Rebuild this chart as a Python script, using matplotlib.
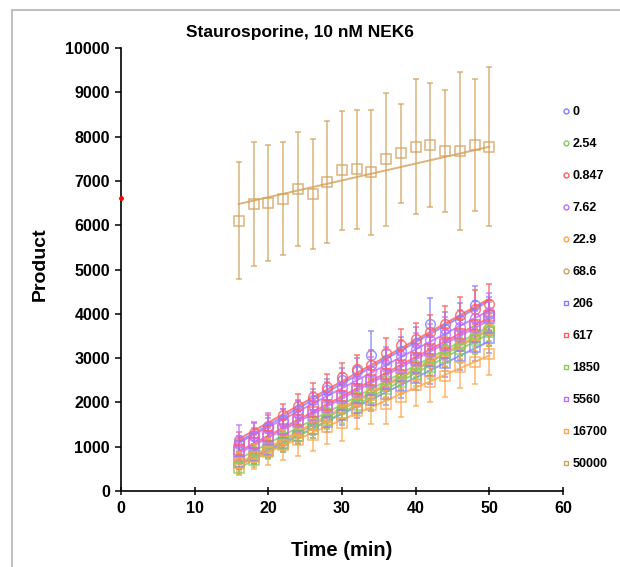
import matplotlib
matplotlib.use('Agg')
import matplotlib.pyplot as plt
from matplotlib.lines import Line2D
from matplotlib.patches import Rectangle
import numpy as np

plt.rcParams['font.family'] = ['Liberation Sans', 'DejaVu Sans']

# Time points (min)
time = [16, 18, 20, 22, 24, 26, 28, 30, 32, 34, 36, 38, 40, 42, 44, 46, 48, 50]

# Staurosporine concentrations (legend order)
labels = ['0', '2.54', '0.847', '7.62', '22.9', '68.6',
          '206', '617', '1850', '5560', '16700', '50000']

# Product values per concentration
p_0 = [1050, 1250, 1420, 1600, 1830, 2050, 2280, 2500, 2700, 3070, 2950, 3150, 3350, 3780, 3650, 3850, 4200, 4000]
p_2_54 = [750, 900, 1050, 1250, 1400, 1600, 1780, 1950, 2150, 2300, 2500, 2650, 2850, 3000, 3200, 3350, 3550, 3700]
p_0_847 = [1110, 1300, 1470, 1710, 1920, 2130, 2350, 2570, 2750, 2840, 3110, 3300, 3430, 3590, 3770, 3970, 4100, 4210]
p_7_62 = [1150, 1250, 1450, 1550, 1750, 1950, 2150, 2350, 2500, 2700, 2850, 3050, 3200, 3400, 3550, 3700, 3900, 4050]
p_22_9 = [650, 820, 1000, 1150, 1350, 1500, 1700, 1880, 2050, 2250, 2400, 2600, 2780, 2950, 3150, 3300, 3500, 3650]
p_68_6 = [600, 780, 950, 1120, 1300, 1480, 1650, 1850, 2000, 2200, 2380, 2550, 2750, 2900, 3100, 3280, 3450, 3620]
p_206 = [650, 780, 920, 1080, 1250, 1400, 1550, 1720, 1880, 2050, 2200, 2380, 2550, 2700, 2880, 3050, 3250, 3450]
p_617 = [930, 1080, 1250, 1400, 1600, 1780, 1950, 2150, 2300, 2500, 2650, 2850, 3000, 3200, 3350, 3550, 3750, 3950]
p_1850 = [520, 700, 900, 1050, 1250, 1400, 1600, 1750, 1950, 2100, 2300, 2450, 2650, 2800, 3000, 3200, 3400, 3600]
p_5560 = [880, 1050, 1200, 1380, 1550, 1720, 1900, 2100, 2250, 2450, 2600, 2780, 2950, 3150, 3300, 3500, 3700, 3900]
p_16700 = [630, 770, 890, 1040, 1150, 1260, 1450, 1530, 1810, 1940, 1960, 2130, 2390, 2470, 2600, 2810, 2920, 3090]
p_50000 = [6100, 6480, 6510, 6600, 6810, 6710, 6980, 7240, 7260, 7190, 7490, 7620, 7770, 7800, 7680, 7680, 7820, 7770]

# Standard deviations
e_0 = [200, 180, 220, 250, 230, 260, 240, 280, 300, 550, 300, 320, 350, 580, 380, 400, 420, 380]
e_2_54 = [150, 160, 170, 180, 190, 200, 210, 220, 230, 240, 250, 260, 270, 280, 290, 300, 310, 320]
e_0_847 = [220, 230, 240, 260, 280, 300, 300, 320, 330, 340, 350, 360, 370, 380, 400, 420, 440, 460]
e_7_62 = [350, 300, 320, 300, 280, 290, 300, 310, 320, 330, 340, 350, 360, 370, 380, 390, 400, 420]
e_22_9 = [180, 190, 200, 210, 220, 230, 240, 250, 260, 270, 280, 290, 300, 310, 320, 330, 340, 350]
e_68_6 = [170, 180, 190, 200, 210, 220, 230, 240, 250, 260, 270, 280, 290, 300, 310, 320, 330, 340]
e_206 = [160, 170, 180, 190, 200, 210, 220, 230, 240, 250, 260, 270, 280, 290, 300, 310, 320, 330]
e_617 = [200, 210, 220, 230, 240, 250, 260, 270, 280, 290, 300, 310, 320, 330, 340, 350, 360, 370]
e_1850 = [150, 160, 170, 180, 190, 200, 210, 220, 230, 240, 250, 260, 270, 280, 290, 300, 310, 320]
e_5560 = [200, 210, 220, 230, 240, 250, 260, 270, 280, 290, 300, 310, 320, 330, 340, 350, 360, 370]
e_16700 = [250, 280, 300, 330, 350, 360, 380, 400, 410, 420, 440, 450, 460, 470, 480, 490, 500, 480]
e_50000 = [1320, 1390, 1310, 1270, 1290, 1240, 1380, 1340, 1340, 1420, 1500, 1120, 1520, 1400, 1380, 1780, 1490, 1790]

# trend line of the 50000 series, read at t=16 and t=50
fit_50000 = [6480, 7770]

values = [p_0, p_2_54, p_0_847, p_7_62, p_22_9, p_68_6,
          p_206, p_617, p_1850, p_5560, p_16700, p_50000]
errors = [e_0, e_2_54, e_0_847, e_7_62, e_22_9, e_68_6,
          e_206, e_617, e_1850, e_5560, e_16700, e_50000]

blue = '#7f7fff'
green = '#7fcf5a'
red = '#ff5a5a'
purple = '#c06cff'
orange = '#ffa64d'
brown = '#d4a05c'
colors = [blue, green, red, purple, orange, brown,
          blue, red, green, purple, orange, brown]
markers = ['o'] * 6 + ['s'] * 6

fig = plt.figure(figsize=(6.2, 5.67), dpi=100)
ax = fig.add_axes([121 / 620, 76 / 567, 442 / 620, 443 / 567])

t = np.array(time)
for lab, vals, errs, c, m in zip(labels, values, errors, colors, markers):
    vals = np.array(vals)
    ax.errorbar(t, vals, yerr=errs, fmt=m, mfc='none', mec=c, ms=7, mew=1.1,
                ecolor=c, elinewidth=1.1, capsize=2.5, capthick=1.1, alpha=0.8)
    if lab == '50000':
        ax.plot([t[0], t[-1]], fit_50000, color=c, lw=1.4, alpha=0.8)
    else:
        slope, icpt = np.polyfit(t, vals, 1)
        ax.plot(t, slope * t + icpt, color=c, lw=1.4, alpha=0.8)

# small red mark on the y axis
ax.plot([0], [6620], 'o', color='red', ms=2.5, clip_on=False, zorder=5)

ax.set_xlim(0, 60)
ax.set_ylim(0, 10000)
ax.set_xticks(range(0, 61, 10))
ax.set_yticks(range(0, 10001, 1000))
for s in ['top', 'right']:
    ax.spines[s].set_visible(False)
ax.spines['left'].set_linewidth(1.2)
ax.spines['bottom'].set_linewidth(1.2)
ax.tick_params(axis='y', direction='out', length=4, width=1.1, labelsize=11.5, pad=4)
ax.tick_params(axis='x', direction='inout', length=6, width=1.1, labelsize=11.5, pad=4)
for lab in ax.get_xticklabels() + ax.get_yticklabels():
    lab.set_fontweight('bold')

fig.text(300 / 620, 1 - 32 / 567, 'Staurosporine, 10 nM NEK6', ha='center', va='center',
         fontsize=12.5, fontweight='bold')
fig.text(40 / 620, 1 - 264 / 567, 'Product', ha='center', va='center', rotation=90,
         fontsize=14, fontweight='bold')
fig.text(342 / 620, 1 - 550 / 567, 'Time (min)', ha='center', va='center',
         fontsize=14.5, fontweight='bold')

handles = [Line2D([], [], ls='none', marker=m, mfc='none', mec=c, ms=3.5, mew=1)
           for c, m in zip(colors, markers)]
leg = fig.legend(handles, labels, loc='upper left', bbox_to_anchor=(563 / 620, 1 - 106 / 567),
                 frameon=False, handlelength=0.5, handletextpad=0.25, labelspacing=1.60,
                 borderpad=0, borderaxespad=0, prop={'size': 9, 'weight': 'bold'})

# grey frame of the chart area
fig.patches.append(Rectangle((12 / 620, -0.1), 1.2, 1.1 - 10 / 567, transform=fig.transFigure,
                             fill=False, edgecolor='#b4b4b4', lw=1.2))

fig.savefig('out.png', dpi=100)
